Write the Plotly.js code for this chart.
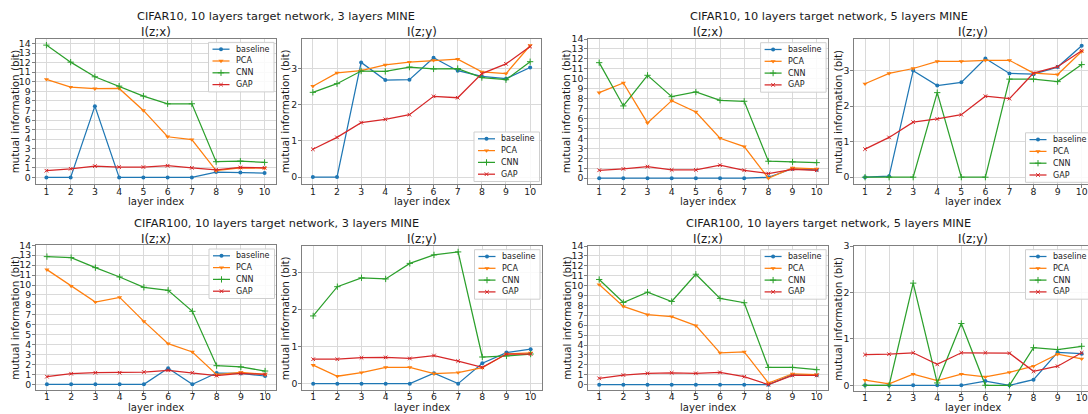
<!DOCTYPE html>
<html><head><meta charset="utf-8">
<script src="https://cdn.plot.ly/plotly-3.0.1.min.js"></script>
<style>html,body{margin:0;padding:0;background:#fff}#chart{width:1088px;height:414px}</style>
</head><body><div id="chart"></div>
<script>
// ---------------- DATA ----------------
const layers = [1,2,3,4,5,6,7,8,9,10];
const seriesNames = ['baseline','PCA','CNN','GAP'];

// CIFAR10, 3 layers MINE, I(z;x)
const c10m3_zx_baseline = [0,0,7.45,0,0,0,0,0.56,0.52,0.45];
const c10m3_zx_pca      = [10.25,9.44,9.28,9.3,7.0,4.25,3.96,0.7,1.0,0.97];
const c10m3_zx_cnn      = [13.83,12.05,10.52,9.54,8.5,7.7,7.7,1.64,1.7,1.57];
const c10m3_zx_gap      = [0.7,0.9,1.18,1.08,1.08,1.22,1.0,0.8,1.04,1.0];
// CIFAR10, 3 layers MINE, I(z;y)
const c10m3_zy_baseline = [0,0,3.18,2.69,2.7,3.31,2.95,2.79,2.73,3.04];
const c10m3_zy_pca      = [2.52,2.89,2.95,3.11,3.19,3.24,3.27,2.92,2.87,3.65];
const c10m3_zy_cnn      = [2.35,2.59,2.94,2.93,3.05,3.0,3.01,2.76,2.7,3.2];
const c10m3_zy_gap      = [0.77,1.1,1.51,1.6,1.73,2.24,2.2,2.87,3.14,3.62];
// CIFAR10, 5 layers MINE, I(z;x)
const c10m5_zx_baseline = [0,0,0,0,0,0,0,0.1,0.95,0.85];
const c10m5_zx_pca      = [8.6,9.58,5.56,7.8,6.66,4.02,3.18,0.0,1.04,0.95];
const c10m5_zx_cnn      = [11.62,7.27,10.35,8.2,8.67,7.84,7.74,1.71,1.64,1.57];
const c10m5_zx_gap      = [0.8,0.94,1.17,0.84,0.84,1.31,0.8,0.47,0.9,0.8];
// CIFAR10, 5 layers MINE, I(z;y)
const c10m5_zy_baseline = [0,0.03,3.0,2.58,2.67,3.34,2.92,2.9,3.1,3.7];
const c10m5_zy_pca      = [2.63,2.92,3.06,3.26,3.26,3.29,3.29,2.93,2.89,3.54];
const c10m5_zy_cnn      = [0,0,0,2.38,0,0,2.76,2.76,2.69,3.17];
const c10m5_zy_gap      = [0.79,1.12,1.55,1.64,1.76,2.28,2.21,2.93,3.11,3.56];
// CIFAR100, 3 layers MINE, I(z;x)
const c100m3_zx_baseline = [0,0,0,0,0,1.61,0,1.14,1.1,0.84];
const c100m3_zx_pca      = [11.55,9.9,8.29,8.76,6.34,4.1,3.26,0.97,1.21,1.0];
const c100m3_zx_cnn      = [12.86,12.76,11.75,10.81,9.77,9.47,7.35,1.88,1.75,1.34];
const c100m3_zx_gap      = [0.77,1.07,1.17,1.17,1.24,1.41,1.17,0.87,1.1,1.0];
// CIFAR100, 3 layers MINE, I(z;y)
const c100m3_zy_baseline = [0,0,0,0,0,0.28,0,0.55,0.84,0.93];
const c100m3_zy_pca      = [0.5,0.2,0.3,0.44,0.44,0.27,0.3,0.43,0.8,0.83];
const c100m3_zy_cnn      = [1.83,2.62,2.86,2.83,3.25,3.48,3.56,0.72,0.75,0.8];
const c100m3_zy_gap      = [0.66,0.66,0.7,0.71,0.68,0.76,0.61,0.44,0.8,0.8];
// CIFAR100, 5 layers MINE, I(z;x)
const c100m5_zx_baseline = [0,0,0,0,0,0,0,0,1.0,0.95];
const c100m5_zx_pca      = [10.11,7.9,7.07,6.87,5.96,3.21,3.32,0.17,1.1,1.02];
const c100m5_zx_cnn      = [10.62,8.3,9.34,8.4,11.15,8.71,8.27,1.74,1.74,1.51];
const c100m5_zx_gap      = [0.64,0.97,1.14,1.2,1.14,1.24,0.8,0.0,0.94,0.93];
// CIFAR100, 5 layers MINE, I(z;y)
const c100m5_zy_baseline = [0,0,0,0,0,0.09,0,0.12,0.71,0.68];
const c100m5_zy_pca      = [0.11,0.03,0.24,0.1,0.24,0.18,0.28,0.41,0.67,0.57];
const c100m5_zy_cnn      = [0,0,2.2,0.05,1.33,0,0,0.81,0.77,0.84];
const c100m5_zy_gap      = [0.66,0.67,0.7,0.45,0.7,0.7,0.69,0.3,0.41,0.7];

const suptitles = [
  'CIFAR10, 10 layers target network, 3 layers MINE',
  'CIFAR10, 10 layers target network, 5 layers MINE',
  'CIFAR100, 10 layers target network, 3 layers MINE',
  'CIFAR100, 10 layers target network, 5 layers MINE'
];
const xLabel = 'layer index';
const yLabel = 'mutual information (bit)';
const ticksZX = [0,1,2,3,4,5,6,7,8,9,10,11,12,13,14];
const ticksZY = [0,1,2,3];

// ---------------- STYLE / LAYOUT ----------------
const W = 1088, H = 414;
const FONT = 'DejaVu Sans, sans-serif';
const TXT = '#1a1a1a';
const colors = ['#1f77b4','#ff7f0e','#2ca02c','#d62728'];
const markerStyles = [
  {symbol:'circle', size:4},
  {symbol:'triangle-down', size:4.5},
  {symbol:'cross-thin', size:4.5},
  {symbol:'x-thin', size:3.6}
];

// box: [left, right(virtual), top, bottom] in px
const panels = [
  {box:[35.5,275.5,38.7,184], yr:[-0.69,14.5], ticks:ticksZX, title:'I(z;x)', leg:'ur', ylx:15,
   data:[c10m3_zx_baseline,c10m3_zx_pca,c10m3_zx_cnn,c10m3_zx_gap]},
  {box:[302,541,39,183.5], yr:[-0.18,3.83], ticks:ticksZY, title:'I(z;y)', leg:'lr', ylx:285,
   data:[c10m3_zy_baseline,c10m3_zy_pca,c10m3_zy_cnn,c10m3_zy_gap]},
  {box:[588.3,827.6,39,184], yr:[-0.58,14], ticks:ticksZX, title:'I(z;x)', leg:'ur', ylx:566.7,
   data:[c10m5_zx_baseline,c10m5_zx_pca,c10m5_zx_cnn,c10m5_zx_gap]},
  {box:[854.2,1092.5,39,184.3], yr:[-0.2,3.89], ticks:ticksZY, title:'I(z;y)', leg:'lr', ylx:838,
   data:[c10m5_zy_baseline,c10m5_zy_pca,c10m5_zy_cnn,c10m5_zy_gap]},
  {box:[36,276,245.3,390.3], yr:[-0.6,14], ticks:ticksZX, title:'I(z;x)', leg:'ur', ylx:15,
   data:[c100m3_zx_baseline,c100m3_zx_pca,c100m3_zx_cnn,c100m3_zx_gap]},
  {box:[302.3,541.5,246,390.3], yr:[-0.18,3.72], ticks:ticksZY, title:'I(z;y)', leg:'ur', ylx:285,
   data:[c100m3_zy_baseline,c100m3_zy_pca,c100m3_zy_cnn,c100m3_zy_gap]},
  {box:[588.3,827.6,246,390.3], yr:[-0.57,14], ticks:ticksZX, title:'I(z;x)', leg:'ur', ylx:566.7,
   data:[c100m5_zx_baseline,c100m5_zx_pca,c100m5_zx_cnn,c100m5_zx_gap]},
  {box:[854.2,1092.5,246,391.3], yr:[-0.13,3], ticks:ticksZY, title:'I(z;y)', leg:'ur', ylx:838,
   data:[c100m5_zy_baseline,c100m5_zy_pca,c100m5_zy_cnn,c100m5_zy_gap]}
];
const supPos = [[276,16.7],[828.7,16.7],[276.5,223.7],[828.7,223.7]];

const px = x => x / W;
const py = y => 1 - y / H;

const traces = [];
const layout = {
  width: W, height: H,
  margin: {l:0, r:0, t:0, b:0, pad:0},
  paper_bgcolor: '#ffffff',
  plot_bgcolor: 'rgba(0,0,0,0)',
  showlegend: false,
  font: {family: FONT, color: TXT},
  annotations: []
};

function markerFor(k, color) {
  const m = Object.assign({color: color}, markerStyles[k]);
  m.line = {color: color, width: (k >= 2 ? 1 : 0)};
  return m;
}

panels.forEach((p, i) => {
  const n = i + 1;
  const xa = 'xaxis' + (n === 1 ? '' : n), ya = 'yaxis' + (n === 1 ? '' : n);
  const xr = 'x' + (n === 1 ? '' : n), yr = 'y' + (n === 1 ? '' : n);
  const [L, R, T, B] = p.box;
  const topRow = T < 200;
  const Rclip = Math.min(R, W);
  const xmax = 0.55 + (Rclip - L) / ((R - L) / 9.9);
  const common = {
    showgrid: true, gridcolor: '#dadada', gridwidth: 1, zeroline: false,
    showline: true, linecolor: '#808080', linewidth: 1,
    ticks: 'outside', ticklen: 3, tickwidth: 1, tickcolor: '#808080',
    tickfont: {size: 9.3, color: TXT, family: FONT}, fixedrange: true
  };
  layout[xa] = Object.assign({}, common, {
    domain: [px(L), px(Rclip)], range: [0.55, xmax], anchor: yr,
    tickmode: 'array', tickvals: layers, ticktext: layers.map(String), mirror: true,
    ticklabelstandoff: topRow ? -4 : -5
  });
  layout[ya] = Object.assign({}, common, {
    domain: [py(B), py(T)], range: p.yr, anchor: xr,
    tickmode: 'array', tickvals: p.ticks, ticktext: p.ticks.map(String),
    mirror: R <= W, ticklabelstandoff: -1
  });
  p.data.forEach((vals, k) => {
    traces.push({
      type: 'scatter', mode: 'lines+markers', x: layers, y: vals,
      xaxis: xr, yaxis: yr, name: seriesNames[k],
      line: {color: colors[k], width: 1.25},
      marker: markerFor(k, colors[k]), hoverinfo: 'skip'
    });
  });
  const cx = (L + R) / 2;
  // subplot title
  layout.annotations.push({text: p.title, xref:'paper', yref:'paper', x: px(cx), y: py(topRow ? 32.3 : 239.3),
    xanchor:'center', yanchor:'middle', showarrow:false, borderpad:0, font:{size:11.8, color:TXT, family:FONT}});
  // x label
  layout.annotations.push({text: xLabel, xref:'paper', yref:'paper', x: px(cx), y: py(topRow ? 208.3 : 414),
    xanchor:'center', yanchor:'bottom', showarrow:false, borderpad:0, font:{size:10.1, color:TXT, family:FONT}});
  // y label
  layout.annotations.push({text: yLabel, xref:'paper', yref:'paper', x: px(p.ylx), y: py((T + B) / 2),
    xanchor:'center', yanchor:'middle', textangle:-90, showarrow:false, borderpad:0, font:{size:10.3, color:TXT, family:FONT}});

  // legend (custom, matplotlib-like)
  const bw = 65.5, bh = 49.5;
  const bR = R - 1.5, bL = bR - bw;
  const bT = p.leg === 'ur' ? T + 3.7 : B - 2 - bh;
  const bB = bT + bh;
  traces.push({type:'scatter', mode:'lines', x:[bL,bR,bR,bL,bL], y:[bT,bT,bB,bB,bT],
    fill:'toself', fillcolor:'rgba(255,255,255,0.85)', line:{color:'#cfcfcf', width:1},
    xaxis:'x9', yaxis:'y9', hoverinfo:'skip'});
  seriesNames.forEach((nm, k) => {
    const yk = bT + 6.8 + 11.8 * k;
    traces.push({type:'scatter', mode:'lines', x:[bL + 4, bL + 21], y:[yk, yk],
      line:{color:colors[k], width:1.25}, xaxis:'x9', yaxis:'y9', hoverinfo:'skip'});
    traces.push({type:'scatter', mode:'markers', x:[bL + 12.5], y:[yk],
      marker: markerFor(k, colors[k]), xaxis:'x9', yaxis:'y9', hoverinfo:'skip'});
    layout.annotations.push({text: nm, xref:'paper', yref:'paper', x: px(bL + 26), y: py(yk),
      xanchor:'left', yanchor:'middle', showarrow:false, borderpad:0, font:{size:8, color:TXT, family:FONT}});
  });
});

supPos.forEach((sp, j) => {
  layout.annotations.push({text: suptitles[j], xref:'paper', yref:'paper', x: px(sp[0]), y: py(sp[1]),
    xanchor:'center', yanchor:'middle', showarrow:false, borderpad:0, font:{size:11.3, color:TXT, family:FONT}});
});

// overlay axes in pixel units (for legend drawing)
layout.xaxis9 = {domain:[0,1], range:[0,W], visible:false, fixedrange:true, anchor:'y9'};
layout.yaxis9 = {domain:[0,1], range:[H,0], visible:false, fixedrange:true, anchor:'x9'};

Plotly.newPlot('chart', traces, layout, {displayModeBar:false, staticPlot:true});
</script>
</body></html>
